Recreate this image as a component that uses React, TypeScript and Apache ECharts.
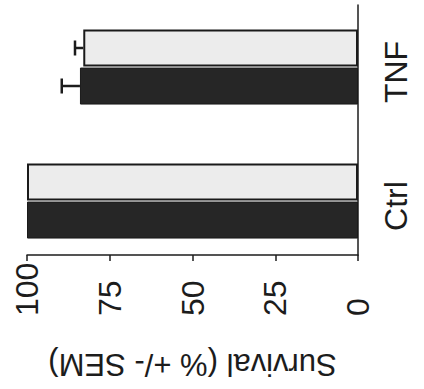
import React, { useEffect, useRef } from "react";
import * as echarts from "echarts";

const categories = ["Ctrl", "TNF"];
const blackValues = [100, 84];
const blackSem = [0, 5.5];
const greyValues = [100, 83];
const greySem = [0, 2.5];
const valueTicks = [0, 25, 50, 75, 100];

const BAR_W = 37;
const SLOT = 19;

export default function App() {
  const ref = useRef<HTMLDivElement>(null);
  useEffect(() => {
    if (!ref.current) return;
    const chart = echarts.init(ref.current, null, { renderer: "svg" });
    const errData: any[] = [];
    categories.forEach((_, i) => {
      errData.push([blackValues[i], i, blackSem[i], 0]);
      errData.push([greyValues[i], i, greySem[i], 1]);
    });
    const font = "Liberation Sans";
    const ink = "#1c1c1c";
    chart.setOption({
      animation: false,
      textStyle: { fontFamily: font, color: ink },
      grid: [
        { left: 27, right: 66, top: -6, bottom: 121 },
        { left: 27, right: 66, top: 5, bottom: 134 },
      ],
      xAxis: [
        {
          gridIndex: 0,
          type: "value",
          min: 0,
          max: 100,
          inverse: true,
          show: false,
          splitLine: { show: false },
        },
        {
          gridIndex: 1,
          type: "value",
          min: valueTicks[0],
          max: valueTicks[valueTicks.length - 1],
          interval: 25,
          inverse: true,
          axisLine: { show: true, onZero: false, lineStyle: { color: ink, width: 1.5 } },
          axisTick: { show: true, inside: false, length: 6, lineStyle: { color: ink, width: 1.5 } },
          splitLine: { show: false },
          axisLabel: {
            rotate: 90,
            align: "left",
            verticalAlign: "middle",
            margin: 61,
            fontSize: 32,
            color: ink,
            fontFamily: font,
          },
          name: "Survival (% +/- SEM)",
          nameLocation: "middle",
          nameRotate: 180,
          nameGap: 109,
          nameTextStyle: {
            fontSize: 31,
            color: ink,
            fontFamily: font,
            align: "center",
            verticalAlign: "middle",
          },
        },
      ],
      yAxis: [
        {
          gridIndex: 0,
          type: "category",
          data: categories,
          position: "right",
          axisLine: { show: false },
          axisTick: { show: false },
          splitLine: { show: false },
          axisLabel: {
            rotate: 90,
            align: "center",
            verticalAlign: "middle",
            margin: 38,
            fontSize: 32,
            color: ink,
            fontFamily: font,
            padding: [0, 10, 0, 0],
          },
        },
        {
          gridIndex: 1,
          type: "value",
          min: 0,
          max: 1,
          position: "right",
          axisLine: { show: true, onZero: false, lineStyle: { color: ink, width: 1.5 } },
          axisTick: { show: false },
          axisLabel: { show: false },
          splitLine: { show: false },
        },
      ],
      series: [
        {
          type: "bar",
          name: "grey",
          xAxisIndex: 0,
          yAxisIndex: 0,
          data: greyValues,
          barWidth: BAR_W,
          barGap: "3%",
          itemStyle: { color: "#ececec", borderColor: "#1a1a1a", borderWidth: 2 },
        },
        {
          type: "bar",
          name: "black",
          xAxisIndex: 0,
          yAxisIndex: 0,
          data: blackValues,
          barWidth: BAR_W,
          barGap: "3%",
          itemStyle: { color: "#262626", borderColor: "#1a1a1a", borderWidth: 1 },
        },
        {
          type: "custom",
          xAxisIndex: 0,
          yAxisIndex: 0,
          encode: { x: 0, y: 1 },
          data: errData,
          z: 5,
          renderItem: (params: any, api: any) => {
            const v = api.value(0);
            const cat = api.value(1);
            const sem = api.value(2);
            const slot = api.value(3);
            if (!sem) return null;
            const p0 = api.coord([v, cat]);
            const p1 = api.coord([v + sem, cat]);
            const y = p0[1] + (slot === 0 ? SLOT : -SLOT);
            const style = { stroke: ink, lineWidth: 2.5 };
            return {
              type: "group",
              children: [
                { type: "line", shape: { x1: p0[0], y1: y, x2: p1[0], y2: y }, style },
                { type: "line", shape: { x1: p1[0], y1: y - 7.5, x2: p1[0], y2: y + 7.5 }, style },
              ],
            };
          },
        },
      ],
    });
    return () => chart.dispose();
  }, []);
  return (
    <div
      ref={ref}
      style={{ position: "absolute", left: 0, top: 0, width: 424, height: 389, background: "#fff" }}
    />
  );
}
